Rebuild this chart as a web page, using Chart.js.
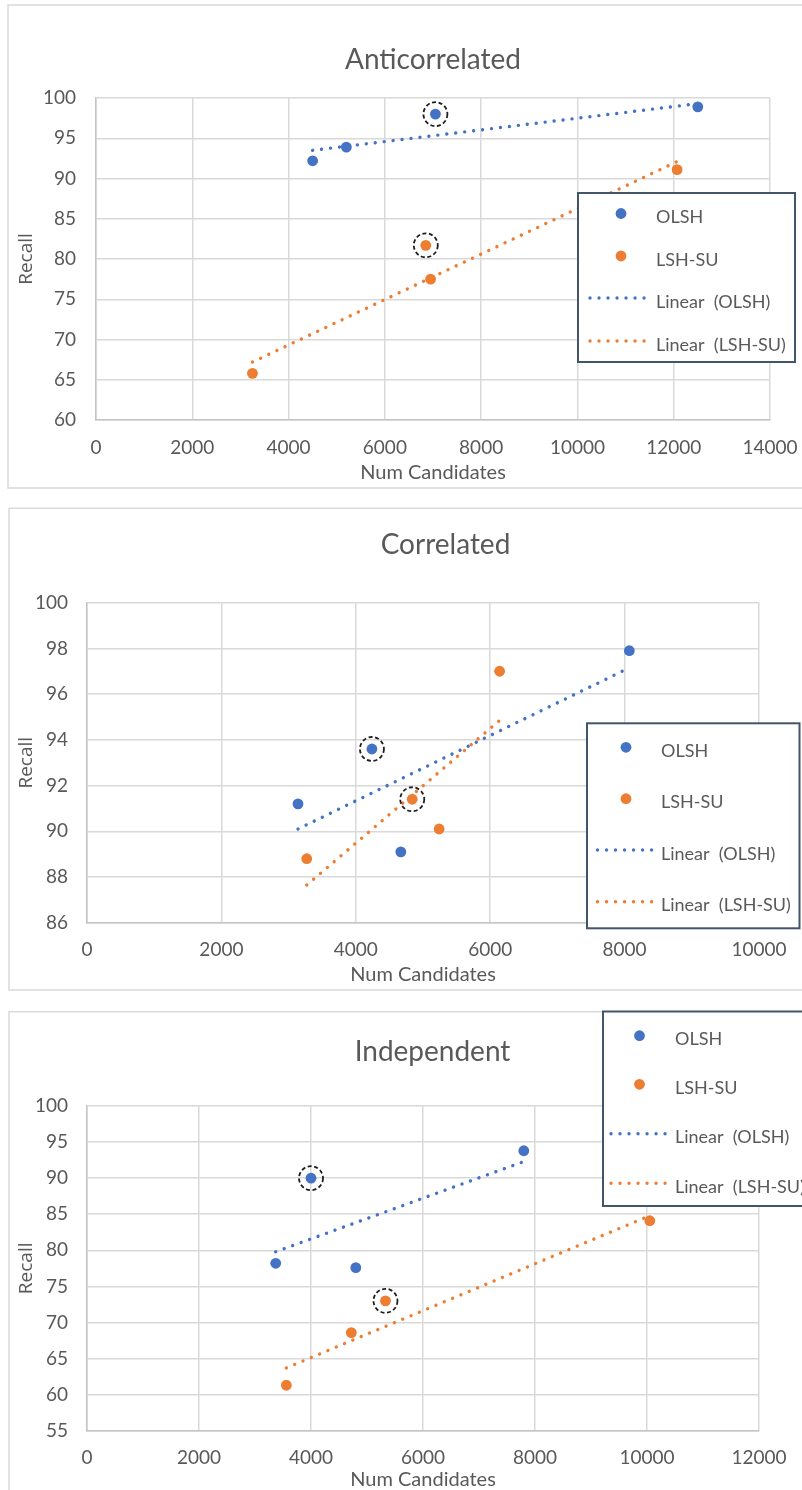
<!DOCTYPE html>
<html>
<head>
<meta charset="utf-8">
<script src="https://cdn.jsdelivr.net/npm/chart.js@4.4.1/dist/chart.umd.min.js"></script>
<style>
  html, body { margin: 0; padding: 0; background: #fff; overflow: hidden; width: 802px; height: 1490px; }
  canvas { position: absolute; left: 0; }
</style>
</head>
<body>
<canvas id="anti" width="866" height="492" style="top:0px"></canvas>
<canvas id="corr" width="890" height="497" style="top:495px"></canvas>
<canvas id="indep" width="864" height="500" style="top:995px"></canvas>
<script>
// ---- Anticorrelated ----
const antiOlshX = [4500, 5200, 7050, 12500];
const antiOlshY = [92.2, 93.9, 98.0, 98.9];
const antiLshX = [3250, 6850, 6950, 12070];
const antiLshY = [65.8, 81.7, 77.5, 91.1];
const antiOlshFitX = [4500, 12500];
const antiOlshFitY = [93.5, 99.3];
const antiLshFitX = [3250, 12070];
const antiLshFitY = [67.2, 92.1];
const antiRinged = [[0, 2], [1, 1]];          // [dataset, point] pairs circled
const antiXTicks = [0, 14000, 2000];          // min, max, step
const antiYTicks = [60, 100, 5];

// ---- Correlated ----
const corrOlshX = [3140, 4240, 4670, 8070];
const corrOlshY = [91.2, 93.6, 89.1, 97.9];
const corrLshX = [3270, 4840, 5240, 6140];
const corrLshY = [88.8, 91.4, 90.1, 97.0];
const corrOlshFitX = [3140, 8070];
const corrOlshFitY = [90.1, 97.15];
const corrLshFitX = [3270, 6140];
const corrLshFitY = [87.65, 94.85];
const corrRinged = [[0, 1], [1, 1]];
const corrXTicks = [0, 10000, 2000];
const corrYTicks = [86, 100, 2];

// ---- Independent ----
const indOlshX = [3370, 4000, 4800, 7800];
const indOlshY = [78.2, 90.0, 77.6, 93.8];
const indLshX = [3560, 4720, 5330, 10050];
const indLshY = [61.3, 68.6, 73.0, 84.1];
const indOlshFitX = [3370, 7800];
const indOlshFitY = [79.8, 92.3];
const indLshFitX = [3560, 10050];
const indLshFitY = [63.7, 84.8];
const indRinged = [[0, 1], [1, 2]];
const indXTicks = [0, 12000, 2000];
const indYTicks = [55, 100, 5];

const seriesNames = ['OLSH', 'LSH-SU', 'Linear  (OLSH)', 'Linear  (LSH-SU)'];
const BLUE = '#4472C4';
const ORANGE = '#ED7D31';
const TEXT = '#595959';

const pairs = (xs, ys) => xs.map((x, i) => ({ x: x, y: ys[i] }));

// white background, light frame and the heading of each chart
const panelFrame = {
  id: 'panelFrame',
  beforeDraw(chart, args, o) {
    const ctx = chart.ctx;
    ctx.save();
    ctx.fillStyle = '#fff';
    ctx.fillRect(0, 0, chart.width, chart.height);
    ctx.strokeStyle = '#D9D9D9';
    ctx.lineWidth = 1.5;
    ctx.strokeRect(o.x, o.y, o.w, o.h);
    ctx.fillStyle = TEXT;
    ctx.font = '28px Lato';
    ctx.textAlign = 'center';
    ctx.textBaseline = 'alphabetic';
    ctx.fillText(o.title, o.titleX, o.titleY);
    ctx.restore();
  }
};

// dashed rings around selected points
const ringMarks = {
  id: 'ringMarks',
  afterDatasetsDraw(chart, args, o) {
    const ctx = chart.ctx;
    ctx.save();
    ctx.strokeStyle = '#1E1E1E';
    ctx.lineWidth = 1.8;
    ctx.setLineDash([4, 2.6]);
    (o.points || []).forEach(([d, i]) => {
      const el = chart.getDatasetMeta(d).data[i];
      ctx.beginPath();
      ctx.arc(el.x, el.y, 12, 0, Math.PI * 2);
      ctx.stroke();
    });
    ctx.restore();
  }
};

// boxed legend: markers for the point series, dotted samples for the fits
const boxLegend = {
  id: 'boxLegend',
  afterDraw(chart, args, o) {
    const ctx = chart.ctx;
    const ds = chart.data.datasets;
    ctx.save();
    ctx.fillStyle = '#fff';
    ctx.fillRect(o.x, o.y, o.w, o.h);
    ctx.strokeStyle = '#44546A';
    ctx.lineWidth = 2;
    ctx.strokeRect(o.x, o.y, o.w, o.h);
    ds.forEach((d, i) => {
      const ry = o.rows[i];
      if (d.showLine) {
        ctx.save();
        ctx.strokeStyle = d.borderColor;
        ctx.lineWidth = d.borderWidth;
        ctx.lineCap = 'round';
        ctx.setLineDash(d.borderDash);
        ctx.beginPath();
        ctx.moveTo(o.lineX1, ry);
        ctx.lineTo(o.lineX2, ry);
        ctx.stroke();
        ctx.restore();
      } else {
        ctx.fillStyle = d.backgroundColor;
        ctx.beginPath();
        ctx.arc(o.markerX, ry, d.pointRadius, 0, Math.PI * 2);
        ctx.fill();
      }
      ctx.fillStyle = TEXT;
      ctx.font = '18px Lato';
      ctx.textAlign = 'left';
      ctx.textBaseline = 'alphabetic';
      ctx.fillText(d.label, o.textX, ry + 9.5);
    });
    ctx.restore();
  }
};

function makeChart(id, s) {
  const pointSet = (label, color, xs, ys) => ({
    label: label, data: pairs(xs, ys), backgroundColor: color, borderColor: color,
    pointRadius: 5.4, pointBorderWidth: 0, showLine: false
  });
  const fitSet = (label, color, xs, ys) => ({
    label: label, data: pairs(xs, ys), borderColor: color, backgroundColor: color,
    borderWidth: 3.4, borderDash: [0.01, 9], borderCapStyle: 'round',
    pointRadius: 0, showLine: true, fill: false
  });
  const plain = v => String(v);
  return new Chart(document.getElementById(id), {
    type: 'scatter',
    data: {
      datasets: [
        pointSet(seriesNames[0], BLUE, s.olshX, s.olshY),
        pointSet(seriesNames[1], ORANGE, s.lshX, s.lshY),
        fitSet(seriesNames[2], BLUE, s.olshFitX, s.olshFitY),
        fitSet(seriesNames[3], ORANGE, s.lshFitX, s.lshFitY)
      ]
    },
    options: {
      responsive: false,
      animation: false,
      events: [],
      layout: { padding: { left: 0, right: s.padRight, top: s.padTop, bottom: 0 } },
      plugins: {
        legend: { display: false },
        tooltip: { enabled: false },
        title: { display: false },
        panelFrame: s.frame,
        ringMarks: { points: s.ringed },
        boxLegend: s.legend
      },
      scales: {
        x: {
          type: 'linear', position: 'bottom',
          min: s.xTicks[0], max: s.xTicks[1],
          ticks: { stepSize: s.xTicks[2], color: TEXT, padding: s.xTickPad, maxRotation: 0,
                   callback: plain, font: { family: 'Lato', size: 19 } },
          grid: { color: '#D9D9D9', lineWidth: 1.5, drawTicks: false },
          border: { color: '#C4C4C4', width: 1.5 },
          title: { display: true, text: 'Num Candidates', color: TEXT,
                   font: { family: 'Lato', size: 20, lineHeight: 1.2 },
                   padding: { top: 0, bottom: s.xTitlePad } },
          afterFit: sc => { sc.height = s.xHeight; }
        },
        y: {
          type: 'linear', position: 'left',
          min: s.yTicks[0], max: s.yTicks[1],
          ticks: { stepSize: s.yTicks[2], color: TEXT, padding: s.yTickPad,
                   callback: plain, font: { family: 'Lato', size: 19 } },
          grid: { color: '#D9D9D9', lineWidth: 1.5, drawTicks: false },
          border: { color: '#C4C4C4', width: 1.5 },
          title: { display: true, text: 'Recall', color: TEXT,
                   font: { family: 'Open Sans', size: 19, lineHeight: 1.2 },
                   padding: { top: 15.5, bottom: 0 } },
          afterFit: sc => { sc.width = s.yWidth; }
        }
      }
    },
    plugins: [panelFrame, ringMarks, boxLegend]
  });
}

Chart.defaults.font.family = 'Lato';

makeChart('anti', {
  olshX: antiOlshX, olshY: antiOlshY, lshX: antiLshX, lshY: antiLshY,
  olshFitX: antiOlshFitX, olshFitY: antiOlshFitY, lshFitX: antiLshFitX, lshFitY: antiLshFitY,
  ringed: antiRinged, xTicks: antiXTicks, yTicks: antiYTicks,
  padTop: 98, padRight: 96, yWidth: 96, xHeight: 72, xTickPad: 16, yTickPad: 20, xTitlePad: 7,
  frame: { x: 8, y: 5, w: 900, h: 483, title: 'Anticorrelated', titleX: 433, titleY: 69 },
  legend: { x: 578, y: 193, w: 217, h: 169, markerX: 621, lineX1: 590, lineX2: 647, textX: 656,
            rows: [213.5, 256, 298, 341] }
});

makeChart('corr', {
  olshX: corrOlshX, olshY: corrOlshY, lshX: corrLshX, lshY: corrLshY,
  olshFitX: corrOlshFitX, olshFitY: corrOlshFitY, lshFitX: corrLshFitX, lshFitY: corrLshFitY,
  ringed: corrRinged, xTicks: corrXTicks, yTicks: corrYTicks,
  padTop: 107.7, padRight: 131, yWidth: 87, xHeight: 69.3, xTickPad: 16, yTickPad: 19, xTitlePad: 5,
  frame: { x: 9, y: 13.3, w: 900, h: 481.7, title: 'Correlated', titleX: 445.5, titleY: 59.3 },
  legend: { x: 587, y: 228.3, w: 212.5, h: 205, markerX: 626, lineX1: 597.5, lineX2: 655, textX: 661,
            rows: [252.3, 303.7, 355, 406.7] }
});

makeChart('indep', {
  olshX: indOlshX, olshY: indOlshY, lshX: indLshX, lshY: indLshY,
  olshFitX: indOlshFitX, olshFitY: indOlshFitY, lshFitX: indLshFitX, lshFitY: indLshFitY,
  ringed: indRinged, xTicks: indXTicks, yTicks: indYTicks,
  padTop: 111, padRight: 105, yWidth: 87, xHeight: 64.3, xTickPad: 16, yTickPad: 19, xTitlePad: 3,
  frame: { x: 9, y: 16.7, w: 900, h: 600, title: 'Independent', titleX: 432.5, titleY: 66.3 },
  legend: { x: 603, y: 16.5, w: 240, h: 194.5, markerX: 639.5, lineX1: 611, lineX2: 668, textX: 675,
            rows: [40.7, 89.3, 138.7, 188.3] }
});
</script>
</body>
</html>
